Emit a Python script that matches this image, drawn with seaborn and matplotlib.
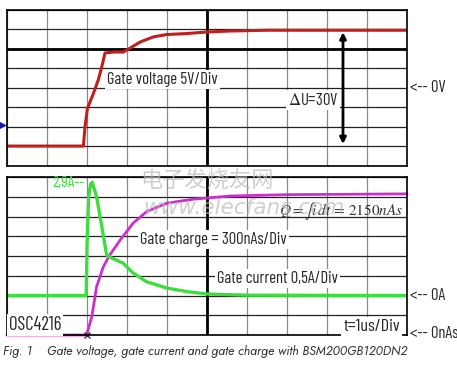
import seaborn as sns
import matplotlib.pyplot as plt
import pandas as pd

# traces, x in time divisions, y in screen divisions
volt_t = [0, 1.91, 1.95, 2.01, 2.16, 2.28, 2.37, 2.45, 2.7, 2.91, 2.99, 3.33, 3.66, 3.99, 4.49, 4.99, 5.57, 6.5, 10]
volt_y = [1.02, 1.02, 2.0, 2.94, 3.71, 4.39, 5.07, 5.78, 5.83, 5.82, 5.92, 6.34, 6.6, 6.72, 6.77, 6.85, 6.9, 6.94, 6.94]

curr_t = [0, 1.98, 2.0, 2.04, 2.09, 2.13, 2.24, 2.37, 2.49, 2.62, 2.9, 3.15, 3.49, 4.0, 4.5, 5.0, 6.0, 10]
curr_y = [2.0, 2.0, 4.5, 7.0, 7.65, 7.75, 7.02, 5.5, 4.06, 3.9, 3.65, 3.15, 2.7, 2.38, 2.2, 2.08, 2.02, 2.0]

charge_t = [0, 1.99, 2.12, 2.24, 2.41, 2.57, 2.83, 3.15, 3.49, 4.0, 4.66, 5.57, 7.0, 10]
charge_y = [0, 0, 0.93, 2.45, 3.47, 4.06, 4.82, 5.67, 6.26, 6.69, 6.89, 7.05, 7.12, 7.16]

volt_df = pd.DataFrame({'t': volt_t, 'y': volt_y})
curr_df = pd.DataFrame({'t': curr_t, 'y': curr_y})
charge_df = pd.DataFrame({'t': charge_t, 'y': charge_y})

sns.set_style('white')
plt.rcParams['font.family'] = ['Barlow Condensed', 'Roboto Condensed', 'DejaVu Sans']
plt.rcParams['mathtext.fontset'] = 'stix'

fig = plt.figure(figsize=(4.57, 3.81), dpi=100)
ax_top = fig.add_axes([7 / 457, 1 - 166 / 381, 400 / 457, 156.5 / 381])
ax_bot = fig.add_axes([7 / 457, 1 - 335 / 381, 400 / 457, 157.7 / 381])

for ax in (ax_top, ax_bot):
    ax.set_xlim(0, 10)
    ax.set_ylim(0, 8)
    ax.set_xticks(range(11))
    ax.set_yticks(range(9))
    ax.set_xticklabels([])
    ax.set_yticklabels([])
    ax.tick_params(length=0)
    ax.grid(axis='x', color='#8a8a8a', lw=0.9)
    ax.grid(axis='y', color='#222222', lw=0.9)
    ax.axvline(5, color='black', lw=2)
    for s in ax.spines.values():
        s.set_color('black')
        s.set_linewidth(1.2)
ax_top.axhline(6, color='black', lw=2)

box = dict(facecolor='white', edgecolor='none', pad=1.5)
fs = 12

# top: gate voltage
sns.lineplot(data=volt_df, x='t', y='y', ax=ax_top, color='#c21e1e', lw=2.2, sort=False)
ax_top.set_xlabel('')
ax_top.set_ylabel('')
ax_top.text(2.5, 4.44, 'Gate voltage 5V/Div', fontsize=fs, va='center', ha='left', bbox=box)
ax_top.text(7.02, 3.37, r'$\Delta$U=30V', fontsize=fs, va='center', ha='left', bbox=box)
ax_top.annotate('', xy=(8.4, 6.98), xytext=(8.4, 0.98),
                arrowprops=dict(arrowstyle='<|-|>', lw=2, color='black', mutation_scale=9))
ax_top.text(10.08, 4, '<-- 0V', fontsize=fs, va='center', ha='left', clip_on=False)
ax_top.plot([-0.12], [2.1], marker='>', color='#1a1aa0', ms=4.5, clip_on=False)

# bottom: gate current and gate charge
sns.lineplot(data=charge_df, x='t', y='y', ax=ax_bot, color='#cc30cc', lw=2.0, sort=False, clip_on=False)
sns.lineplot(data=curr_df, x='t', y='y', ax=ax_bot, color='#3edc3e', lw=2.4, sort=False)
ax_bot.set_xlabel('')
ax_bot.set_ylabel('')
ax_bot.plot([1.99], [0.02], marker='x', color='#333333', ms=4, mew=1, clip_on=False)
ax_bot.text(1.95, 7.72, '2,9A--', fontsize=11.5, color='#3edc3e', va='center', ha='right')
ax_bot.text(3.32, 4.82, 'Gate charge = 300nAs/Div', fontsize=fs, va='center', ha='left', bbox=box)
ax_bot.text(5.25, 2.89, 'Gate current 0,5A/Div', fontsize=fs, va='center', ha='left', bbox=box)
ax_bot.text(9.9, 6.26, r'$Q=\int i\,dt\,=\,2150nAs$', fontsize=11, va='center', ha='right',
            color='#333333')
ax_bot.text(0.04, 0.5, 'OSC4216', fontsize=13.5, va='center', ha='left', bbox=box)
ax_bot.text(9.82, 0.42, 't=1us/Div', fontsize=13, va='center', ha='right', bbox=box)
ax_bot.text(10.08, 2, '<-- 0A', fontsize=fs, va='center', ha='left', clip_on=False)
ax_bot.text(10.08, 0.1, '<-- 0nAs', fontsize=fs, va='center', ha='left', clip_on=False)

# watermark
fig.text(140 / 457, 1 - 181 / 381, '电子发烧友网', fontsize=16, color='#bbbbbb', alpha=0.7,
         family=['Noto Sans CJK SC', 'DejaVu Sans'], va='center', ha='left', style='italic')
fig.text(143 / 457, 1 - 208 / 381, 'www.elecfans.com', fontsize=15.5, color='#bbbbbb', alpha=0.7,
         family=['DejaVu Sans'], va='center', ha='left', style='italic')

fig.text(3 / 457, 1 - 352 / 381, 'Fig. 1    Gate voltage, gate current and gate charge with BSM200GB120DN2',
         fontsize=9, style='italic', color='#333333', family=['Jost', 'DejaVu Sans'],
         va='center', ha='left')

fig.savefig('out.png', dpi=100)
